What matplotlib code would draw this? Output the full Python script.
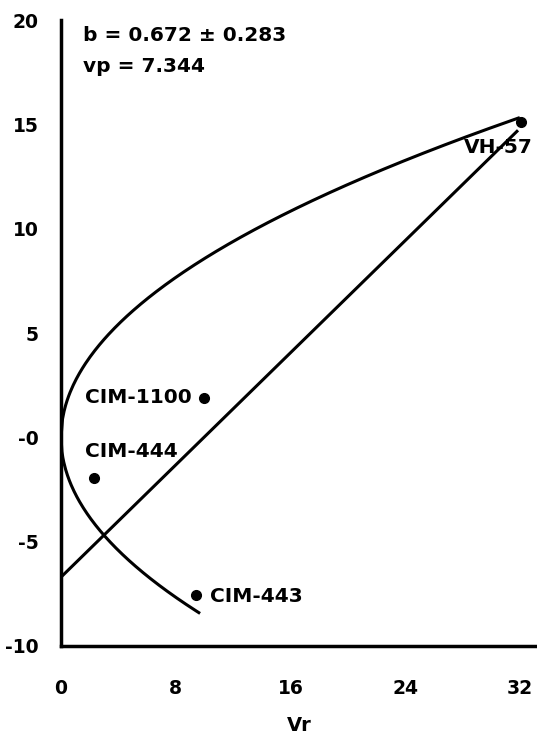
import numpy as np
import matplotlib
matplotlib.use("Agg")
import matplotlib.pyplot as plt

# Wr / Vr points of the parents
names = ["VH-57", "CIM-1100", "CIM-444", "CIM-443"]
vr = [32.1, 10.0, 2.3, 9.4]
wr = [15.1, 1.9, -1.95, -7.55]

# regression line and limiting parabola
b = 0.672
a = -6.7
vp = 7.344
line_end = 31.8
upper_end = 32.0
lower_end = 9.7

xticks = [0, 8, 16, 24, 32]
yticks = [-10, -5, 0, 5, 10, 15, 20]
ylabels = ["-10", "-5", "-0", "5", "10", "15", "20"]

plt.rcParams['font.family'] = ['DejaVu Sans']
plt.rcParams['font.weight'] = 'bold'

fig = plt.figure(figsize=(5.37, 7.38), dpi=100)
ax = fig.add_axes([0.1136, 0.1247, 0.8864, 0.848])

# parabola Wr^2 = Vr * Vp
xu = np.linspace(0, upper_end, 300)
xl = np.linspace(0, lower_end, 150)
ax.plot(xu, np.sqrt(xu * vp), color='black', lw=2.2, solid_capstyle='butt')
ax.plot(xl, -np.sqrt(xl * vp), color='black', lw=2.2, solid_capstyle='butt')

# regression line
xr = np.array([0, line_end])
ax.plot(xr, a + b * xr, color='black', lw=2.2)

ax.plot(vr, wr, 'o', color='black', ms=7)

offsets = {"VH-57": (-4.0, -1.2, 'left'), "CIM-1100": (-0.9, 0.0, 'right'),
           "CIM-444": (-0.6, 1.25, 'left'), "CIM-443": (1.0, -0.1, 'left')}
for n, x, y in zip(names, vr, wr):
    dx, dy, ha = offsets[n]
    ax.text(x + dx, y + dy, n, fontsize=14.5, ha=ha, va='center')

ax.text(1.5, 19.25, "b = 0.672 ± 0.283", fontsize=14.5, va='center')
ax.text(1.5, 17.8, "vp = 7.344", fontsize=14.5, va='center')

ax.set_xlim(0, 33.2)
ax.set_ylim(-10, 20)
ax.set_xticks(xticks)
ax.set_yticks(yticks)
ax.set_yticklabels(ylabels)
ax.tick_params(length=0, labelsize=13.5)
ax.tick_params(axis='x', pad=24)
ax.tick_params(axis='y', pad=16)
ax.set_xlabel("Vr", fontsize=14, fontweight='bold', labelpad=13)

for s in ['top', 'right']:
    ax.spines[s].set_visible(False)
for s in ['left', 'bottom']:
    ax.spines[s].set_linewidth(2.5)

fig.savefig("out.png", dpi=100)
